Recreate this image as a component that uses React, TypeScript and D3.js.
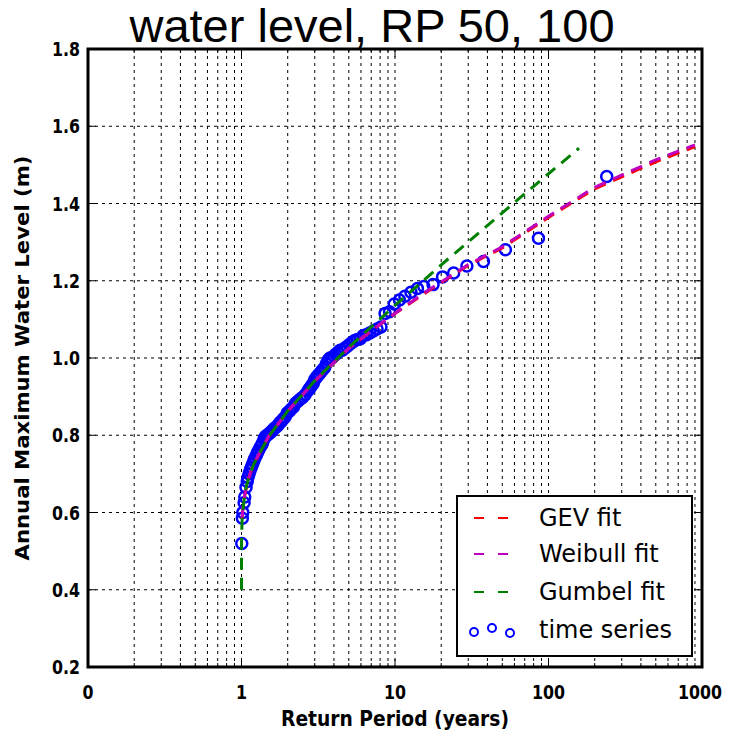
import * as d3 from "d3";

const chartTitle = "water level, RP 50, 100";
const xAxisTitle = "Return Period (years)";
const yAxisTitle = "Annual Maximum Water Level (m)";

const xTickValues = [0.1, 1, 10, 100, 1000];
const xTickLabels = ["0", "1", "10", "100", "1000"];
const yTickValues = [0.2, 0.4, 0.6, 0.8, 1.0, 1.2, 1.4, 1.6, 1.8];
const yTickLabels = ["0.2", "0.4", "0.6", "0.8", "1.0", "1.2", "1.4", "1.6", "1.8"];

const legendNames = ["GEV fit", "Weibull fit", "Gumbel fit", "time series"];
const legendColors = ["#ff0000", "#bf00bf", "#008000", "#0000ff"];

// observed annual maxima (return period in years, level in m)
const obsPeriod = [
  239.5, 86.0, 52.4, 37.7, 29.4, 24.1, 20.4, 17.7, 15.4, 14.0,
  12.7, 11.6, 10.7, 9.89, 9.21, 8.62, 8.10, 7.64, 7.23, 6.86,
  6.52, 6.22, 5.95, 5.69, 5.46, 5.25, 5.05, 4.87, 4.70, 4.54,
  4.39, 4.25, 4.12, 4.00, 3.88, 3.77, 3.67, 3.57, 3.48, 3.39,
  3.31, 3.23, 3.15, 3.08, 3.01, 2.94, 2.88, 2.82, 2.76, 2.71,
  2.60, 2.50, 2.41, 2.33, 2.25, 2.18, 2.11, 2.05, 1.99, 1.93,
  1.87, 1.82, 1.78, 1.73, 1.69, 1.64, 1.61, 1.57, 1.53, 1.50,
  1.47, 1.43, 1.40, 1.37, 1.35, 1.32, 1.29, 1.27, 1.25, 1.22,
  1.20, 1.18, 1.16, 1.14, 1.12, 1.10, 1.09, 1.07, 1.05, 1.04,
  1.02, 1.013, 1.004,
];
const obsLevel = [
  1.47, 1.31, 1.28, 1.25, 1.238, 1.22, 1.21, 1.19, 1.185, 1.18,
  1.17, 1.16, 1.15, 1.14, 1.12, 1.115, 1.08, 1.075, 1.07, 1.065,
  1.06, 1.058, 1.05, 1.048, 1.045, 1.04, 1.035, 1.03, 1.025, 1.02,
  1.02, 1.015, 1.01, 1.005, 1.0, 1.0, 0.995, 0.985, 0.975, 0.97,
  0.965, 0.96, 0.955, 0.95, 0.945, 0.935, 0.93, 0.925, 0.92, 0.915,
  0.905, 0.898, 0.893, 0.888, 0.883, 0.873, 0.868, 0.862, 0.858, 0.848,
  0.842, 0.836, 0.833, 0.826, 0.822, 0.818, 0.815, 0.81, 0.806, 0.803,
  0.8, 0.797, 0.79, 0.78, 0.775, 0.768, 0.76, 0.755, 0.748, 0.74,
  0.733, 0.725, 0.718, 0.71, 0.7, 0.69, 0.68, 0.665, 0.64, 0.625,
  0.6, 0.585, 0.52,
];

const gevPeriod = [1.01, 1.02, 1.05, 1.1, 1.2, 1.5, 2, 3, 5, 7, 10, 15, 20, 30, 50, 100, 200, 500, 900];
const gevLevel = [0.585, 0.61, 0.645, 0.683, 0.725, 0.796, 0.862, 0.94, 1.025, 1.07, 1.115, 1.163, 1.195, 1.24, 1.285, 1.364, 1.438, 1.508, 1.547];

const weibullPeriod = [1.01, 1.02, 1.05, 1.1, 1.2, 1.5, 2, 3, 5, 7, 10, 15, 20, 30, 50, 100, 200, 500, 900];
const weibullLevel = [0.587, 0.612, 0.647, 0.684, 0.726, 0.797, 0.862, 0.94, 1.025, 1.071, 1.116, 1.165, 1.197, 1.242, 1.288, 1.367, 1.442, 1.513, 1.552];

const gumbelPeriod = [1.0000001, 1.00001, 1.001, 1.01, 1.05, 1.1, 1.2, 1.5, 2, 3, 5, 10, 20, 50, 100, 158];
const gumbelLevel = [0.4, 0.456, 0.53, 0.588, 0.649, 0.683, 0.725, 0.796, 0.863, 0.941, 1.028, 1.136, 1.241, 1.376, 1.477, 1.543];

const W = 733;
const H = 730;
const left = 88;
const right = 702;
const top = 49;
const bottom = 667;

const labelFont = "'DejaVu Sans', sans-serif";

export default function App() {
  const x = d3.scaleLog().domain([0.1, 1000]).range([left, right]);
  const y = d3.scaleLinear().domain([0.2, 1.8]).range([bottom, top]);

  const minor = x.ticks().filter((t) => !xTickValues.some((v) => Math.abs(v - t) / v < 1e-6));

  const line = d3
    .line<[number, number]>()
    .x((d) => x(d[0]))
    .y((d) => y(d[1]));

  const fits = [
    { period: gevPeriod, level: gevLevel, color: legendColors[0] },
    { period: weibullPeriod, level: weibullLevel, color: legendColors[1] },
    { period: gumbelPeriod, level: gumbelLevel, color: legendColors[2] },
  ];

  const gridStyle = { stroke: "#000", strokeWidth: 1, strokeDasharray: "3,4" };

  // condensed look: narrow glyph widths like the reference
  const tickLen = (s: string) => s.length * 11 - (s.includes(".") ? 5 : 0);

  return (
    <svg width={W} height={H} style={{ position: "absolute", left: 0, top: 0, background: "#fff" }}>
      <rect x={0} y={0} width={W} height={H} fill="#fff" />
      <text x={372} y={42} textAnchor="middle" fontFamily="'Liberation Sans', Arial, sans-serif" fontSize={47}>
        {chartTitle}
      </text>

      {/* grid */}
      {x.ticks().map((t, i) => (
        <line key={"gx" + i} x1={x(t)} x2={x(t)} y1={top} y2={bottom} {...gridStyle} />
      ))}
      {yTickValues.map((t, i) => (
        <line key={"gy" + i} x1={left} x2={right} y1={y(t)} y2={y(t)} {...gridStyle} />
      ))}

      {/* ticks */}
      {xTickValues.map((t, i) => (
        <g key={"tx" + i}>
          <line x1={x(t)} x2={x(t)} y1={bottom} y2={bottom - 8} stroke="#000" />
          <line x1={x(t)} x2={x(t)} y1={top} y2={top + 8} stroke="#000" />
        </g>
      ))}
      {minor.map((t, i) => (
        <g key={"mx" + i}>
          <line x1={x(t)} x2={x(t)} y1={bottom} y2={bottom - 4} stroke="#000" />
          <line x1={x(t)} x2={x(t)} y1={top} y2={top + 4} stroke="#000" />
        </g>
      ))}
      {yTickValues.map((t, i) => (
        <g key={"ty" + i}>
          <line x1={left} x2={left + 8} y1={y(t)} y2={y(t)} stroke="#000" />
          <line x1={right} x2={right - 8} y1={y(t)} y2={y(t)} stroke="#000" />
        </g>
      ))}

      {/* observations */}
      {obsPeriod.map((p, i) => (
        <circle key={"o" + i} cx={x(p)} cy={y(obsLevel[i])} r={5.5} fill="none" stroke={legendColors[3]} strokeWidth={2.5} />
      ))}

      {/* fitted curves */}
      {fits.map((f, i) => (
        <path
          key={"f" + i}
          d={line(f.period.map((p, j) => [p, f.level[j]] as [number, number])) || ""}
          fill="none"
          stroke={f.color}
          strokeWidth={3}
          strokeDasharray="12,8"
        />
      ))}

      {/* frame */}
      <rect x={left} y={top} width={right - left} height={bottom - top} fill="none" stroke="#000" strokeWidth={3} />

      {/* tick labels */}
      {xTickValues.map((t, i) => (
        <text
          key={"lx" + i}
          x={i === xTickValues.length - 1 ? x(t) - 2 : x(t)}
          y={699}
          textAnchor="middle"
          fontFamily={labelFont}
          fontWeight="bold"
          fontSize={20}
          textLength={tickLen(xTickLabels[i])}
          lengthAdjust="spacingAndGlyphs"
        >
          {xTickLabels[i]}
        </text>
      ))}
      {yTickValues.map((t, i) => (
        <text
          key={"ly" + i}
          x={80}
          y={y(t) + 7}
          textAnchor="end"
          fontFamily={labelFont}
          fontWeight="bold"
          fontSize={20}
          textLength={tickLen(yTickLabels[i])}
          lengthAdjust="spacingAndGlyphs"
        >
          {yTickLabels[i]}
        </text>
      ))}

      <text
        x={395}
        y={726}
        textAnchor="middle"
        fontFamily={labelFont}
        fontWeight="bold"
        fontSize={21}
        textLength={228}
        lengthAdjust="spacingAndGlyphs"
      >
        {xAxisTitle}
      </text>
      <text
        transform={`translate(29, ${y(1.0)}) rotate(-90)`}
        textAnchor="middle"
        fontFamily={labelFont}
        fontWeight="bold"
        fontSize={20}
        textLength={405}
        lengthAdjust="spacingAndGlyphs"
      >
        {yAxisTitle}
      </text>

      {/* legend */}
      <rect x={457} y={496} width={235} height={160} fill="#fff" stroke="#000" strokeWidth={2} />
      {legendNames.map((name, i) => {
        const cy = [518, 554, 592, 630][i];
        return (
          <g key={"lg" + i}>
            {i < 3 ? (
              <line x1={474} x2={508} y1={cy} y2={cy} stroke={legendColors[i]} strokeWidth={2} strokeDasharray="10,14" />
            ) : (
              [474, 492, 510].map((cx, k) => (
                <circle key={k} cx={cx} cy={cy + [2, -2, 3][k]} r={4} fill="none" stroke={legendColors[i]} strokeWidth={2} />
              ))
            )}
            <text x={539} y={cy + 8} fontFamily="'DejaVu Sans', sans-serif" fontSize={24}>
              {name}
            </text>
          </g>
        );
      })}
    </svg>
  );
}
